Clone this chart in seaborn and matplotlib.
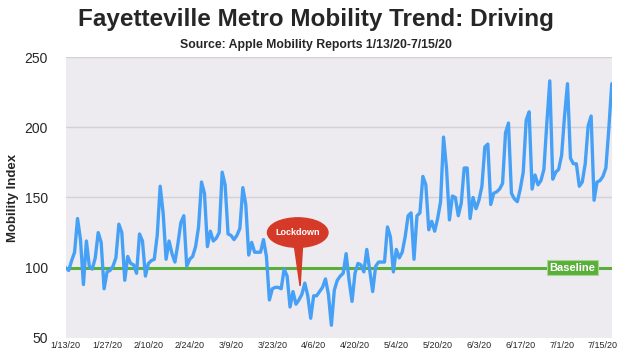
import numpy as np
import pandas as pd
import matplotlib
matplotlib.use('Agg')
import matplotlib.pyplot as plt
from matplotlib.patches import Ellipse, Polygon
import seaborn as sns

# Apple mobility index, driving, Fayetteville metro
mobility = [
    100, 98, 105, 111, 135, 120, 88, 119, 101, 99, 107, 125, 118, 85,
    97, 98, 101, 107, 131, 125, 91, 108, 103, 102, 96, 124, 119, 94,
    103, 105, 106, 123, 158, 139, 106, 119, 110, 104, 117, 132, 137, 101,
    106, 108, 115, 129, 161, 153, 115, 126, 119, 121, 125, 168, 159, 124,
    123, 120, 123, 128, 157, 145, 109, 118, 111, 111, 111, 120, 108, 77,
    85, 86, 86, 85, 99, 94, 72, 83, 74, 77, 81, 89, 80, 64,
    80, 80, 83, 86, 92, 81, 59, 84, 91, 94, 96, 110, 91, 76,
    96, 103, 102, 97, 113, 98, 83, 101, 104, 104, 104, 129, 122, 97,
    113, 107, 111, 122, 137, 139, 106, 137, 139, 165, 159, 127, 133, 126,
    135, 147, 193, 171, 134, 151, 150, 137, 146, 171, 171, 135, 150, 142,
    148, 158, 186, 188, 145, 153, 154, 156, 160, 196, 203, 153, 149, 147,
    156, 168, 205, 211, 156, 166, 159, 162, 170, 203, 233, 163, 168, 170,
    180, 208, 231, 178, 174, 174, 158, 161, 174, 201, 208, 148, 161, 162,
    165, 171, 199, 231,
]
tick_labels = ['1/13/20', '1/27/20', '2/10/20', '2/24/20', '3/9/20', '3/23/20',
               '4/6/20', '4/20/20', '5/4/20', '5/20/20', '6/3/20', '6/17/20',
               '7/1/20', '7/15/20']
baseline = 100

df = pd.DataFrame({'day': np.arange(len(mobility)), 'index': mobility})

sns.set_style('white')
plt.rcParams['font.family'] = ['Liberation Sans', 'DejaVu Sans']

fig = plt.figure(figsize=(6.32, 3.61), dpi=100)
ax = fig.add_axes([0.104, 0.064, 0.864, 0.778])
ax.set_facecolor('#edebef')

for y in [150, 200, 250]:
    ax.axhline(y, color='#d2d1d4', lw=1, zorder=1)
ax.axhline(baseline, color='#5aae3a', lw=2.2, zorder=2)

sns.lineplot(data=df, x='day', y='index', color='#46a1f6', lw=2.4, ax=ax, zorder=3)

ax.set_xlim(0, len(mobility) - 1)
ax.set_ylim(50, 250)
ax.set_yticks([50, 100, 150, 200, 250])
ax.tick_params(axis='y', labelsize=10, length=0, pad=13)
ax.set_xticks(np.arange(0, 14 * len(tick_labels), 14))
ax.set_xticklabels(tick_labels, fontsize=6.5)
ax.tick_params(axis='x', length=0, pad=2)
ax.set_xlabel('')
ax.set_ylabel('Mobility Index', fontsize=9.5, fontweight='bold', labelpad=4)
for s in ax.spines.values():
    s.set_visible(False)

# lockdown callout
ax.add_patch(Polygon([[77.3, 118], [80.3, 118], [79.4, 87]], closed=True,
                     color='#d43a27', zorder=5))
ax.add_patch(Ellipse((78.6, 125), 20.5, 21, color='#d43a27', zorder=5))
ax.text(78.6, 125, 'Lockdown', color='white', fontsize=6.5, fontweight='bold',
        ha='center', va='center', zorder=6)

# baseline tag
ax.text(171.7, baseline, 'Baseline', color='white', fontsize=8, fontweight='bold',
        ha='center', va='center', zorder=6,
        bbox=dict(boxstyle='square,pad=0.22', fc='#5aae3a', ec='#a8d696', lw=0.8))

fig.text(0.5, 0.945, 'Fayetteville Metro Mobility Trend: Driving', fontsize=17.5,
         fontweight='bold', ha='center', va='center')
fig.text(0.5, 0.875, 'Source: Apple Mobility Reports 1/13/20-7/15/20', fontsize=8.8,
         fontweight='bold', ha='center', va='center')

fig.savefig('out.png', dpi=100)
